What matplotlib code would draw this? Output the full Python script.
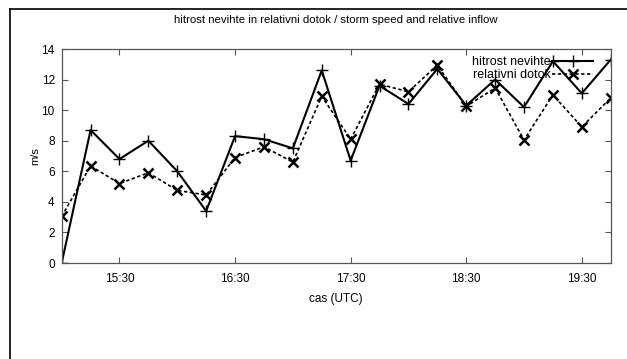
import pandas as pd
import matplotlib
matplotlib.use('Agg')
import matplotlib.pyplot as plt
import matplotlib.dates as mdates
from matplotlib.lines import Line2D

# data
cas = ['15:00', '15:15', '15:30', '15:45', '16:00', '16:15', '16:30', '16:45',
       '17:00', '17:15', '17:30', '17:45', '18:00', '18:15', '18:30', '18:45',
       '19:00', '19:15', '19:30', '19:45']
hitrost = [0.0, 8.7, 6.8, 8.0, 6.0, 3.4, 8.3, 8.1, 7.5, 12.6, 6.7, 11.6,
           10.4, 12.7, 10.3, 12.0, 10.2, 13.2, 11.1, 13.3]
dotok = [3.05, 6.35, 5.2, 5.9, 4.75, 4.45, 6.9, 7.6, 6.6, 10.9, 8.1, 11.7,
         11.2, 12.95, 10.25, 11.45, 8.05, 11.0, 8.9, 10.8]
xtick_labels = ['15:30', '16:30', '17:30', '18:30', '19:30']

plt.rcParams['font.family'] = ['Liberation Sans', 'DejaVu Sans']

t = pd.to_datetime(['2000-01-01 ' + c for c in cas])
xt = pd.to_datetime(['2000-01-01 ' + c for c in xtick_labels])

fig = plt.figure(figsize=(6.27, 3.59), dpi=100)
ax = fig.add_axes([0.0984, 0.2674, 0.8756, 0.5961])

ax.plot(t, hitrost, color='black', lw=1.5, marker='+', ms=8, mew=1.0,
        label='hitrost nevihte')
ax.plot(t, dotok, color='black', lw=1.2, ls=(0, (2, 1.5)), marker='x', ms=7,
        mew=1.8, label='relativni dotok')

ax.set_xlim(t[0], t[-1])
ax.set_ylim(0, 14)
ax.set_xticks(xt)
ax.xaxis.set_major_formatter(mdates.DateFormatter('%H:%M'))
ax.set_yticks(range(0, 15, 2))

ax.tick_params(direction='in', length=4, width=0.8, color='#555555',
               top=True, right=True, labelsize=8.5)
ax.tick_params(axis='x', pad=7)
ax.tick_params(axis='y', pad=5)
for s in ax.spines.values():
    s.set_color('#555555')
    s.set_linewidth(0.9)

ax.set_title('hitrost nevihte in relativni dotok / storm speed and relative inflow',
             fontsize=8.2, pad=19)
ax.set_xlabel('cas (UTC)', fontsize=8.5, labelpad=6)
ax.set_ylabel('m/s', fontsize=8, labelpad=1)

ax.legend(loc='upper right', bbox_to_anchor=(0.975, 0.985), frameon=False,
          markerfirst=False, fontsize=9, handlelength=3.3, handletextpad=0.1,
          labelspacing=0.1, borderaxespad=0.0, borderpad=0.3)

# outer frame (top and left edges only, as in the source)
fig.add_artist(Line2D([10 / 627, 1], [1 - 9 / 359] * 2, color='black', lw=1.2,
                      transform=fig.transFigure))
fig.add_artist(Line2D([10 / 627] * 2, [0, 1 - 9 / 359], color='black', lw=1.2,
                      transform=fig.transFigure))

plt.savefig('out.png', dpi=100)
